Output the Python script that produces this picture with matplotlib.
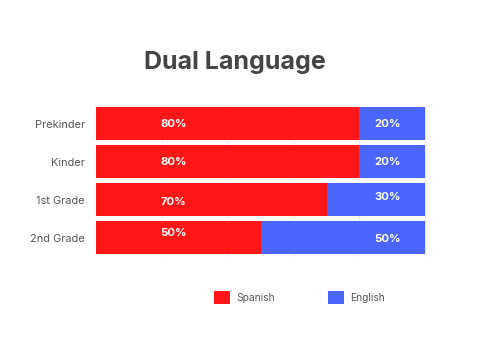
import matplotlib.pyplot as plt
from matplotlib.patches import Patch

plt.rcParams['font.family'] = ['Inter', 'DejaVu Sans']

# Data
grades = ['Prekinder', 'Kinder', '1st Grade', '2nd Grade']
spanish = [80, 80, 70, 50]
english = [20, 20, 30, 50]

# label placement (as drawn in the reference)
spanish_label_x = 23.5
english_label_x = 88.5
spanish_label_dy = [0, 0, 0.075, -0.125]
english_label_dy = [0, 0, -0.06, 0.03]

RED = '#FF1616'
BLUE = '#4A66FF'

fig = plt.figure(figsize=(5, 3.5), dpi=100)
ax = fig.add_axes([0.192, 0.267, 0.662, 0.434])

y = list(range(len(grades)))
ax.barh(y, spanish, height=0.87, color=RED, zorder=2)
ax.barh(y, english, left=spanish, height=0.87, color=BLUE, zorder=2)

for i in y:
    ax.text(spanish_label_x, i + spanish_label_dy[i], f'{spanish[i]}%',
            ha='center', va='center', color='white', fontsize=8.2,
            fontweight='bold', zorder=3)
    ax.text(english_label_x, i + english_label_dy[i], f'{english[i]}%',
            ha='center', va='center', color='white', fontsize=8.2,
            fontweight='bold', zorder=3)

ax.set_xlim(0, 100.5)
ax.set_ylim(len(grades) - 0.5, -0.5)
ax.set_yticks(y)
ax.set_yticklabels(grades, fontsize=7.9, color='#555555')
ax.set_xticks([20, 40, 60, 80, 100])
ax.tick_params(axis='x', length=0, labelbottom=False)
ax.tick_params(axis='y', length=0, pad=8)
ax.grid(axis='x', color='#eeeeee', linewidth=0.8, zorder=0)
for s in ax.spines.values():
    s.set_visible(False)

fig.text(0.47, 0.82, 'Dual Language', ha='center', va='center',
         fontsize=18, fontweight='bold', color='#444444')

handles = [Patch(facecolor=RED, label='Spanish'),
           Patch(facecolor=BLUE, label='English')]
fig.legend(handles=handles, loc='center', bbox_to_anchor=(0.599, 0.151),
           ncol=2, frameon=False, fontsize=7.4, handlelength=1.55,
           handleheight=1.55, columnspacing=5.2, handletextpad=0.6,
           labelcolor='#555555')

fig.savefig('out.png', dpi=100, facecolor='white')
